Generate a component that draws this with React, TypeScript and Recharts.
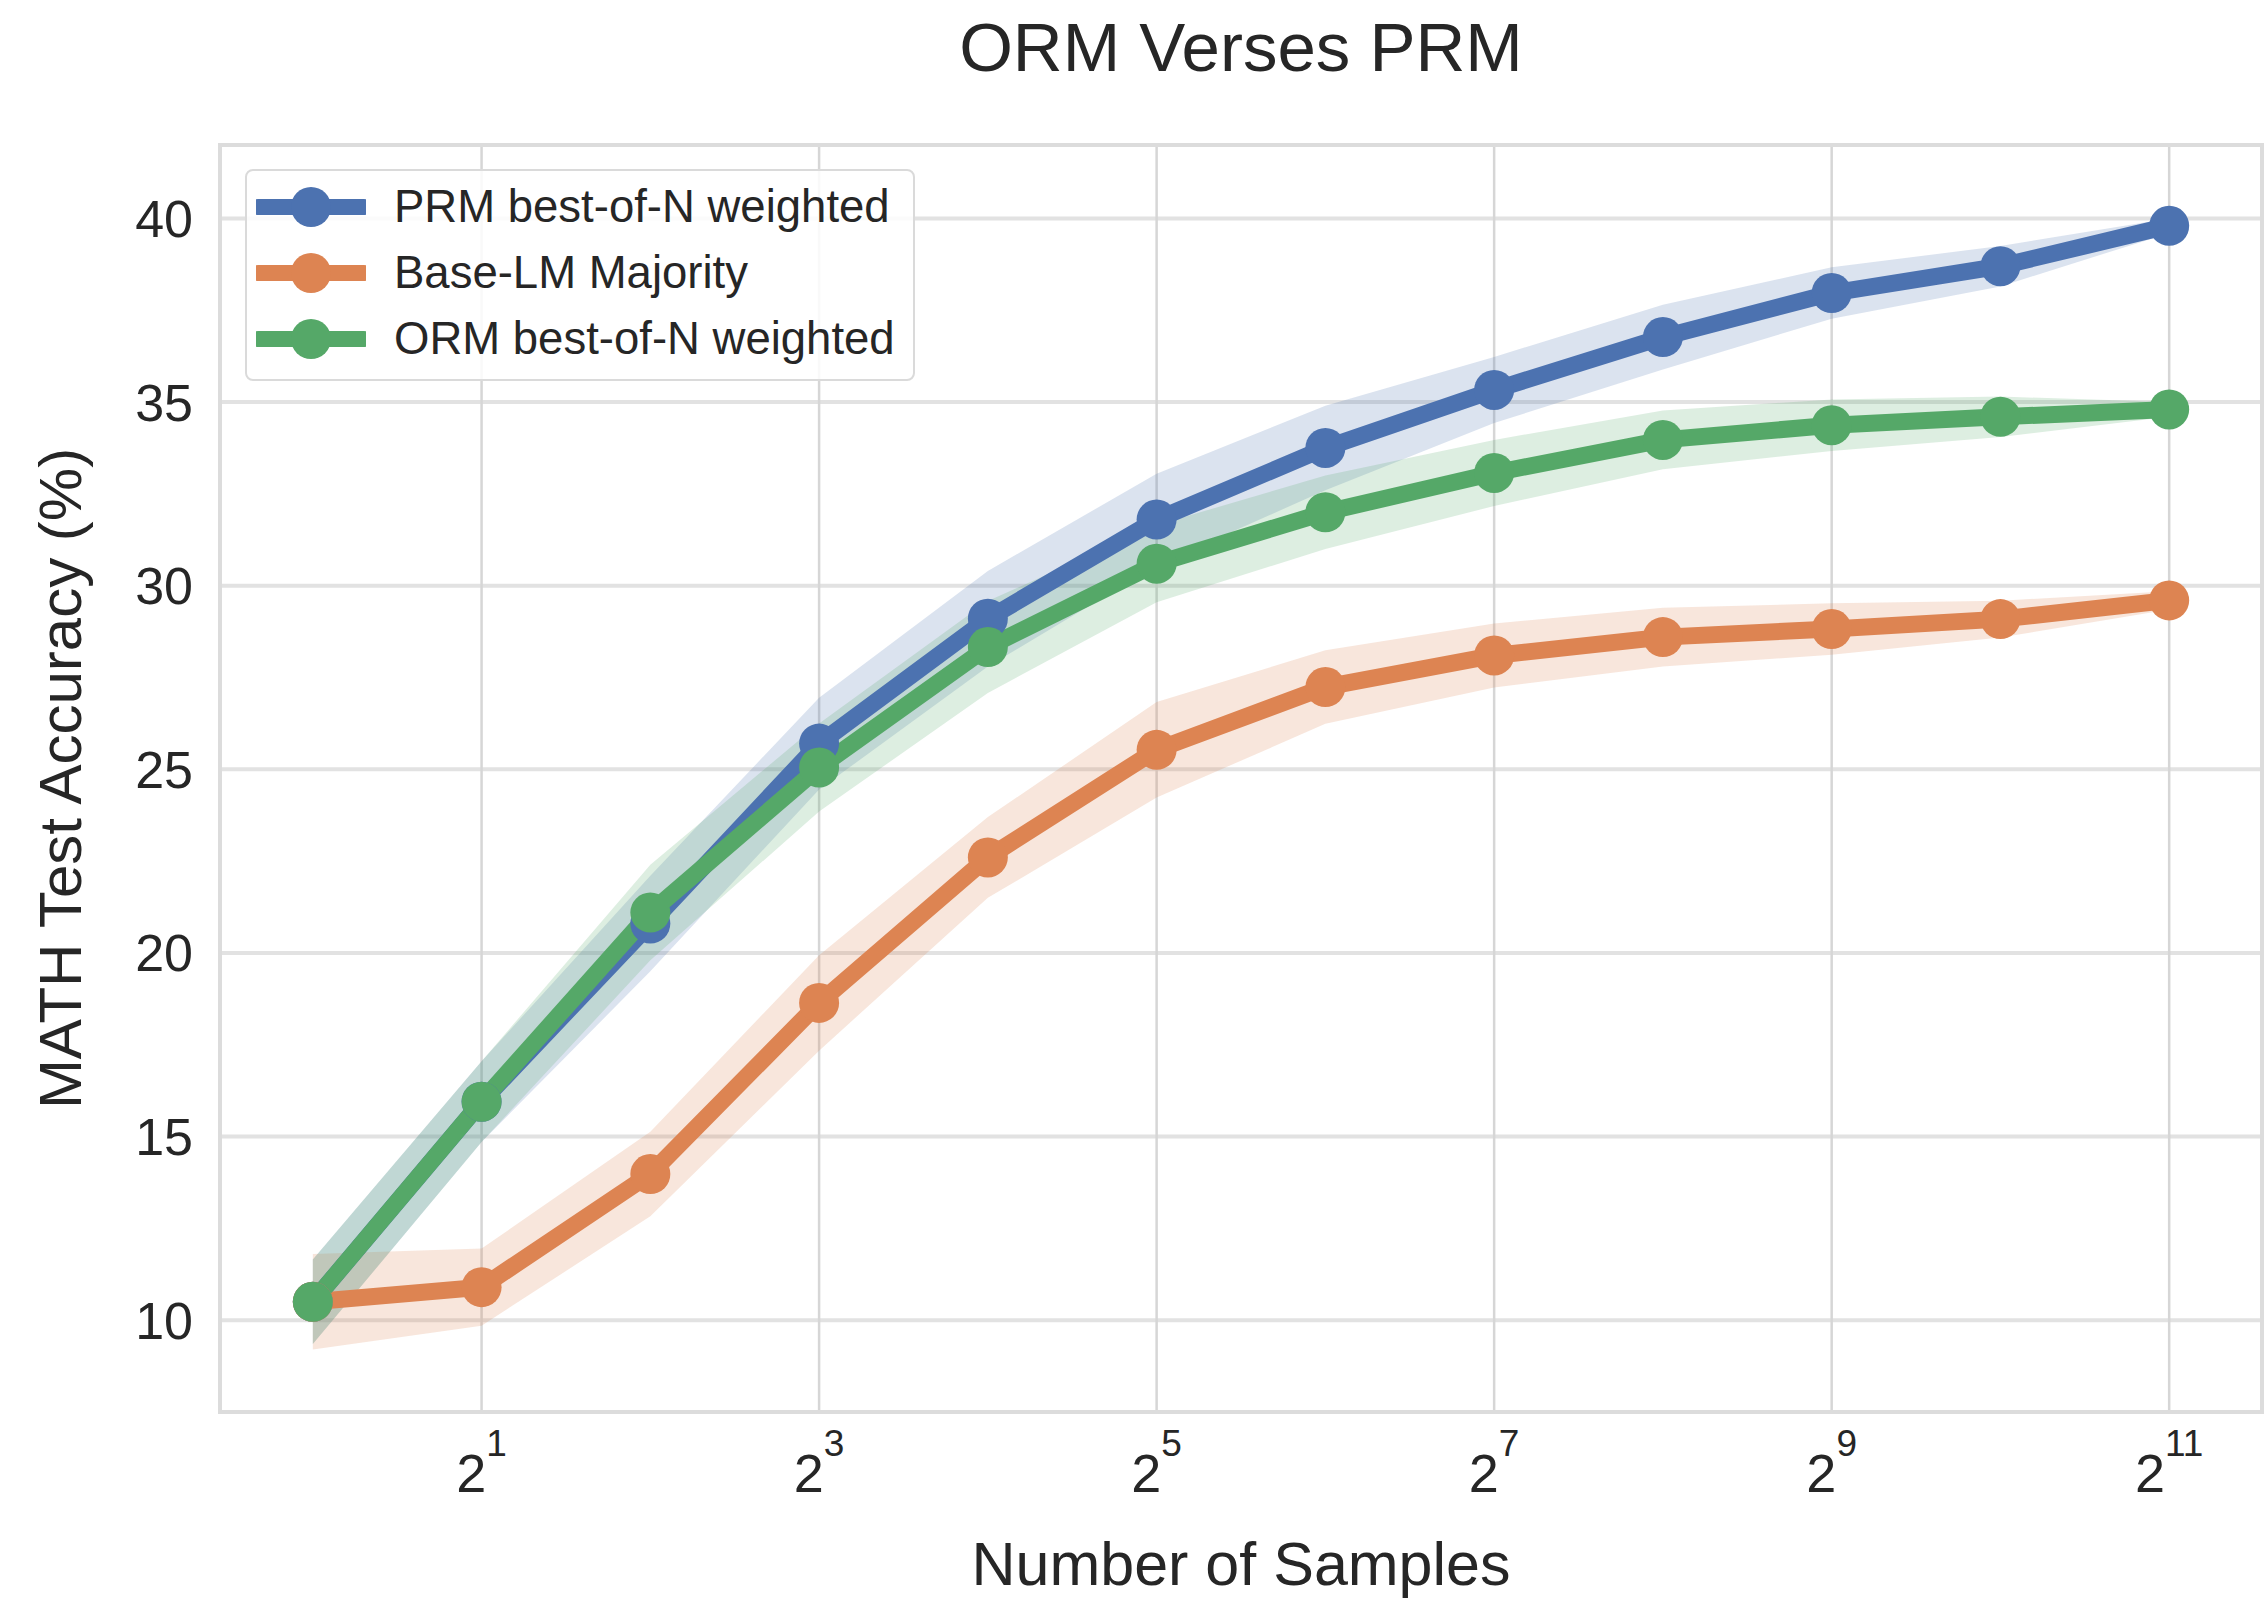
import {
  Area,
  CartesianGrid,
  ComposedChart,
  Line,
  ReferenceArea,
  XAxis,
  YAxis
} from "recharts";

// x positions are log2(number of samples)
const exponents = [0, 1, 2, 3, 4, 5, 6, 7, 8, 9, 10, 11];

const prmAcc = [10.5, 15.95, 20.8, 25.7, 29.1, 31.8, 33.75, 35.33, 36.77, 37.97, 38.7, 39.8];
const prmSpread = [1.15, 1.1, 1.3, 1.25, 1.3, 1.25, 1.15, 0.9, 0.88, 0.7, 0.55, 0.2];

const baseAcc = [10.5, 10.9, 13.98, 18.64, 22.6, 25.53, 27.24, 28.1, 28.6, 28.82, 29.09, 29.6];
const baseSpread = [1.3, 1.05, 1.15, 1.3, 1.1, 1.3, 1.0, 0.87, 0.8, 0.7, 0.5, 0.25];

const ormAcc = [10.5, 15.95, 21.1, 25.05, 28.33, 30.6, 32.0, 33.07, 33.97, 34.37, 34.6, 34.8];
const ormSpread = [1.15, 1.1, 1.3, 1.2, 1.25, 1.05, 1.0, 0.9, 0.8, 0.7, 0.55, 0.2];

const xTicks = [1, 3, 5, 7, 9, 11];
const yTicks = [10, 15, 20, 25, 30, 35, 40];

const seriesNames = ["PRM best-of-N weighted", "Base-LM Majority", "ORM best-of-N weighted"];
const seriesColors = ["#4C72B0", "#DD8452", "#55A868"];

const data = exponents.map((exp, i) => ({
  exp,
  prm: prmAcc[i],
  prmBand: [prmAcc[i] - prmSpread[i], prmAcc[i] + prmSpread[i]],
  base: baseAcc[i],
  baseBand: [baseAcc[i] - baseSpread[i], baseAcc[i] + baseSpread[i]],
  orm: ormAcc[i],
  ormBand: [ormAcc[i] - ormSpread[i], ormAcc[i] + ormSpread[i]]
}));

const FONT = "'Liberation Sans', Arial, Helvetica, sans-serif";
const INK = "#262626";

const PowerTick = (props: any) => {
  const { x, y, payload } = props;
  return (
    <text x={x} y={y + 80} textAnchor="middle" fill={INK} fontSize={54} fontFamily={FONT}>
      <tspan>2</tspan>
      <tspan dy={-36} fontSize={37}>{payload.value}</tspan>
    </text>
  );
};

const LegendBox = () => (
  <div
    style={{
      position: "absolute",
      left: 245,
      top: 169,
      width: 666,
      height: 205,
      border: "2.5px solid #dadada",
      borderRadius: 8,
      background: "rgba(255,255,255,0.85)",
      paddingTop: 3,
      boxSizing: "content-box"
    }}
  >
    {seriesNames.map((name, i) => (
      <div key={name} style={{ height: 66, display: "flex", alignItems: "center" }}>
        <svg width={110} height={46} style={{ marginLeft: 9, flex: "none" }}>
          <line x1={2} y1={23} x2={108} y2={23} stroke={seriesColors[i]} strokeWidth={16} strokeLinecap="round" />
          <circle cx={55} cy={23} r={20} fill={seriesColors[i]} />
        </svg>
        <span style={{ marginLeft: 28, fontSize: 45.5, color: INK, fontFamily: FONT, whiteSpace: "nowrap" }}>
          {name}
        </span>
      </div>
    ))}
  </div>
);

export default function App() {
  return (
    <div style={{ position: "absolute", left: 0, top: 0, width: 2265, height: 1599, background: "#fff" }}>
      <div
        style={{
          position: "absolute",
          left: 0,
          width: 2482,
          top: 8,
          textAlign: "center",
          fontFamily: FONT,
          fontSize: 69,
          color: INK
        }}
      >
        ORM Verses PRM
      </div>
      <ComposedChart
        width={2265}
        height={1599}
        data={data}
        margin={{ top: 145, right: 3, left: 0, bottom: 0 }}
        style={{ position: "absolute", left: 0, top: 0 }}
      >
        <CartesianGrid vertical={false} stroke="#e2e2e2" strokeWidth={4} />
        <CartesianGrid horizontal={false} stroke="#d6d6d6" strokeWidth={2.5} />
        <ReferenceArea
          x1={-0.55}
          x2={11.55}
          y1={7.5}
          y2={42}
          fill="none"
          stroke="#dcdcdc"
          strokeWidth={4}
          ifOverflow="visible"
        />
        <XAxis
          type="number"
          dataKey="exp"
          domain={[-0.55, 11.55]}
          ticks={xTicks}
          allowDataOverflow
          height={187}
          axisLine={false}
          tickLine={false}
          tickSize={0}
          tickMargin={0}
          tick={<PowerTick />}
          label={{
            value: "Number of Samples",
            position: "insideBottom",
            offset: 14,
            fill: INK,
            fontSize: 61,
            fontFamily: FONT
          }}
        />
        <YAxis
          type="number"
          domain={[7.5, 42]}
          ticks={yTicks}
          allowDataOverflow
          width={220}
          axisLine={false}
          tickLine={false}
          tickSize={0}
          tickMargin={27}
          tick={{ fill: INK, fontSize: 52, fontFamily: FONT }}
          label={{
            value: "MATH Test Accuracy (%)",
            angle: -90,
            position: "insideLeft",
            offset: 60,
            style: { textAnchor: "middle" },
            fill: INK,
            fontSize: 60,
            fontFamily: FONT
          }}
        />
        <Area
          type="linear"
          dataKey="prmBand"
          stroke="none"
          fill={seriesColors[0]}
          fillOpacity={0.2}
          isAnimationActive={false}
        />
        <Area
          type="linear"
          dataKey="baseBand"
          stroke="none"
          fill={seriesColors[1]}
          fillOpacity={0.2}
          isAnimationActive={false}
        />
        <Area
          type="linear"
          dataKey="ormBand"
          stroke="none"
          fill={seriesColors[2]}
          fillOpacity={0.2}
          isAnimationActive={false}
        />
        <Line
          type="linear"
          dataKey="prm"
          stroke={seriesColors[0]}
          strokeWidth={17}
          dot={{ r: 20, fill: seriesColors[0], stroke: "none" }}
          activeDot={false}
          isAnimationActive={false}
        />
        <Line
          type="linear"
          dataKey="base"
          stroke={seriesColors[1]}
          strokeWidth={17}
          dot={{ r: 20, fill: seriesColors[1], stroke: "none" }}
          activeDot={false}
          isAnimationActive={false}
        />
        <Line
          type="linear"
          dataKey="orm"
          stroke={seriesColors[2]}
          strokeWidth={17}
          dot={{ r: 20, fill: seriesColors[2], stroke: "none" }}
          activeDot={false}
          isAnimationActive={false}
        />
      </ComposedChart>
      <LegendBox />
    </div>
  );
}
